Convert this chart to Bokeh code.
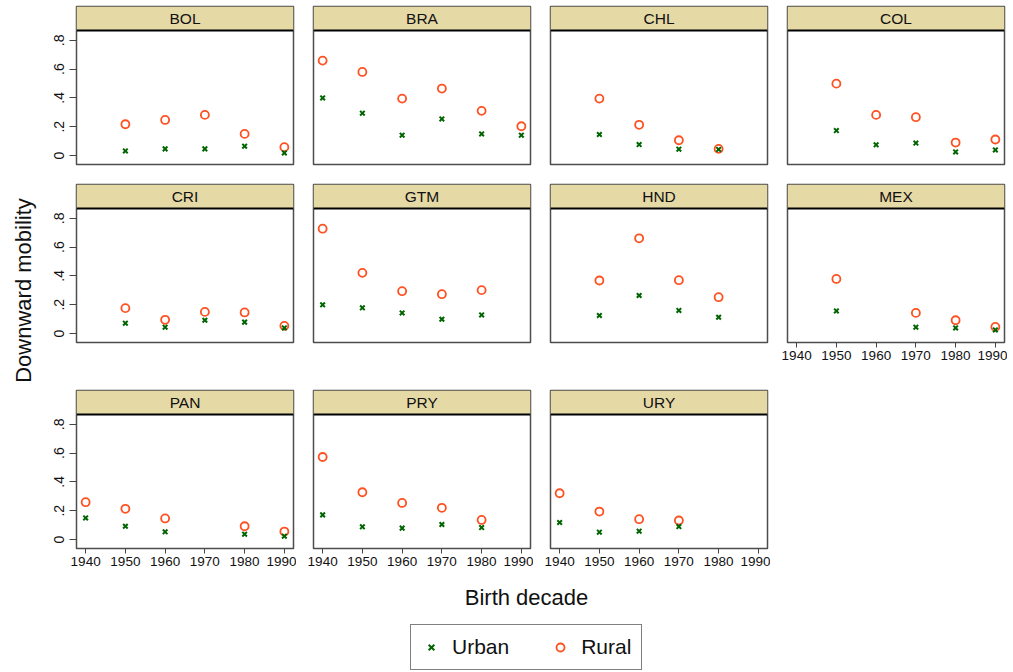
import math
from bokeh.plotting import figure
from bokeh.layouts import row, column
from bokeh.models import (Range1d, FixedTicker, CustomJSTickFormatter, ColumnDataSource,
                          Span, Legend, LegendItem)
from bokeh.core.properties import value
from bokeh.embed import file_html
from bokeh.resources import INLINE

# ---------------- data ----------------
COUNTRIES = ["BOL", "BRA", "CHL", "COL", "CRI", "GTM", "HND", "MEX", "PAN", "PRY", "URY"]
DECADES = [1940, 1950, 1960, 1970, 1980, 1990]
Y_TICKS = [0, 0.2, 0.4, 0.6, 0.8]
X_TICKS = [1940, 1950, 1960, 1970, 1980, 1990]

BOL_URBAN = [None, 0.032, 0.046, 0.046, 0.065, 0.018]
BOL_RURAL = [None, 0.217, 0.247, 0.282, 0.150, 0.058]
BRA_URBAN = [0.400, 0.294, 0.141, 0.254, 0.150, 0.141]
BRA_RURAL = [0.659, 0.580, 0.395, 0.465, 0.310, 0.203]
CHL_URBAN = [None, 0.146, 0.076, 0.044, 0.042, None]
CHL_RURAL = [None, 0.395, 0.213, 0.106, 0.046, None]
COL_URBAN = [None, 0.173, 0.074, 0.086, 0.025, 0.039]
COL_RURAL = [None, 0.499, 0.282, 0.266, 0.090, 0.111]
CRI_URBAN = [None, 0.072, 0.044, 0.092, 0.079, 0.039]
CRI_RURAL = [None, 0.176, 0.095, 0.150, 0.146, 0.053]
GTM_URBAN = [0.199, 0.178, 0.143, 0.099, 0.129, None]
GTM_RURAL = [0.728, 0.421, 0.294, 0.273, 0.301, None]
HND_URBAN = [None, 0.125, 0.264, 0.160, 0.113, None]
HND_RURAL = [None, 0.368, 0.661, 0.370, 0.252, None]
MEX_URBAN = [None, 0.157, None, 0.044, 0.039, 0.025]
MEX_RURAL = [None, 0.379, None, 0.143, 0.092, 0.046]
PAN_URBAN = [0.150, 0.092, 0.053, None, 0.037, 0.023]
PAN_RURAL = [0.259, 0.213, 0.146, None, 0.092, 0.055]
PRY_URBAN = [0.171, 0.088, 0.079, 0.104, 0.083, None]
PRY_RURAL = [0.573, 0.328, 0.254, 0.220, 0.136, None]
URY_URBAN = [0.118, 0.051, 0.058, 0.090, None, None]
URY_RURAL = [0.321, 0.194, 0.141, 0.132, None, None]

URBAN = {"BOL": BOL_URBAN, "BRA": BRA_URBAN, "CHL": CHL_URBAN, "COL": COL_URBAN,
         "CRI": CRI_URBAN, "GTM": GTM_URBAN, "HND": HND_URBAN, "MEX": MEX_URBAN,
         "PAN": PAN_URBAN, "PRY": PRY_URBAN, "URY": URY_URBAN}
RURAL = {"BOL": BOL_RURAL, "BRA": BRA_RURAL, "CHL": CHL_RURAL, "COL": COL_RURAL,
         "CRI": CRI_RURAL, "GTM": GTM_RURAL, "HND": HND_RURAL, "MEX": MEX_RURAL,
         "PAN": PAN_RURAL, "PRY": PRY_RURAL, "URY": URY_RURAL}

# ---------------- style ----------------
FONT = "Liberation Sans"
GREEN = "#006400"
ORANGE = "#FF5020"
STRIP = "#E5D9A6"
OUTLINE = "#4d4d4d"
TXT = "#111111"

X_LO, X_HI = 1937.7, 1992.3
Y_LO, Y_HI = -0.0625, 0.868
PLOT_PX, STRIP_PX, FRAME_W = 134, 24, 217
Y_TOP = Y_HI + STRIP_PX * (Y_HI - Y_LO) / PLOT_PX
ROW_TOP = [6, 1, 1]
ROW_BOTTOM = [19, 47, 29]
YLAB_W = 40


def src_for(vals):
    xs = [d for d, v in zip(DECADES, vals) if v is not None]
    ys = [v for v in vals if v is not None]
    return ColumnDataSource(dict(x=xs, y=ys))


def make_panel(name, col, r, show_x):
    left = 36 if col == 0 else 17
    right = 3
    top = ROW_TOP[r]
    bottom = ROW_BOTTOM[r]
    p = figure(width=left + FRAME_W + right, height=top + PLOT_PX + STRIP_PX + bottom,
               x_range=Range1d(X_LO, X_HI), y_range=Range1d(Y_LO, Y_TOP),
               x_axis_location="below" if show_x else None,
               y_axis_location="left" if col == 0 else None,
               output_backend="svg", toolbar_location=None, title=None,
               min_border_left=left, min_border_right=right,
               min_border_top=top, min_border_bottom=bottom)
    p.grid.visible = False
    p.outline_line_color = OUTLINE
    p.outline_line_width = 1.5
    p.background_fill_color = "white"
    p.border_fill_color = "white"

    # strip header
    p.quad(left=[X_LO], right=[X_HI], bottom=[Y_HI], top=[Y_TOP],
           fill_color=STRIP, line_color=None)
    p.add_layout(Span(location=Y_HI, dimension="width", line_color="black", line_width=2))
    p.text(x=[(X_LO + X_HI) / 2], y=[(Y_HI + Y_TOP) / 2], text=[name],
           text_align="center", text_baseline="middle",
           text_font=value(FONT), text_font_size="15.5px", text_color=TXT)

    # data
    p.scatter("x", "y", source=src_for(RURAL[name]), marker="circle", size=8,
              fill_color=None, line_color=ORANGE, line_width=1.8)
    p.scatter("x", "y", source=src_for(URBAN[name]), marker="x", size=6.5,
              line_color=GREEN, line_width=2)

    if col == 0:
        ax = p.yaxis[0]
        ax.ticker = FixedTicker(ticks=Y_TICKS)
        ax.formatter = CustomJSTickFormatter(
            code="return tick == 0 ? '0' : tick.toFixed(1).replace('0.', '.');")
        ax.major_label_orientation = "vertical"
        ax.axis_line_color = None
        ax.major_tick_out = 7
        ax.major_tick_in = 0
        ax.major_tick_line_color = "#444444"
        ax.minor_tick_line_color = None
        ax.major_label_standoff = 5
        ax.major_label_text_font = FONT
        ax.major_label_text_font_size = "14px"
        ax.major_label_text_color = TXT
    if show_x:
        ax = p.xaxis[0]
        ax.ticker = FixedTicker(ticks=X_TICKS)
        ax.axis_line_color = None
        ax.major_tick_out = 5
        ax.major_tick_in = 0
        ax.major_tick_line_color = "#444444"
        ax.minor_tick_line_color = None
        ax.major_label_standoff = 3
        ax.major_label_text_font = FONT
        ax.major_label_text_font_size = "13.5px"
        ax.major_label_text_color = TXT
    return p


rows = []
for r in range(3):
    figs = []
    for c in range(4):
        i = r * 4 + c
        if i >= len(COUNTRIES):
            break
        name = COUNTRIES[i]
        show_x = (r == 2) or (name == "MEX")
        figs.append(make_panel(name, c, r, show_x))
    rows.append(row(*figs))

grid_h = sum(t + PLOT_PX + STRIP_PX + b for t, b in zip(ROW_TOP, ROW_BOTTOM))
total_w = YLAB_W + (36 + FRAME_W + 3) + 3 * (17 + FRAME_W + 3)

# y-axis title
yl = figure(width=YLAB_W, height=grid_h, x_range=Range1d(0, YLAB_W), y_range=Range1d(0, grid_h),
            output_backend="svg", toolbar_location=None, title=None,
            x_axis_location=None, y_axis_location=None,
            min_border_left=0, min_border_right=0, min_border_top=0, min_border_bottom=0)
yl.grid.visible = False
yl.outline_line_color = None
yl.text(x=[23], y=[grid_h - 290], text=["Downward mobility"], angle=math.pi / 2,
        text_align="center", text_baseline="middle",
        text_font=value(FONT), text_font_size="22px", text_color=TXT)

# bottom: x title + legend
BH = 94
bf = figure(width=total_w, height=BH, x_range=Range1d(0, total_w), y_range=Range1d(0, BH),
            output_backend="svg", toolbar_location=None, title=None,
            x_axis_location=None, y_axis_location=None,
            min_border_left=0, min_border_right=0, min_border_top=0, min_border_bottom=0)
bf.grid.visible = False
bf.outline_line_color = None
bf.text(x=[526], y=[BH - 20], text=["Birth decade"],
        text_align="center", text_baseline="middle",
        text_font=value(FONT), text_font_size="22px", text_color=TXT)
# legend proxies: real series whose decades lie outside this strip's range, so nothing shows
r_u = bf.scatter("x", "y", source=src_for(URBAN["BRA"]), marker="x", line_color=GREEN,
                 line_width=2, size=7)
r_r = bf.scatter("x", "y", source=src_for(RURAL["BRA"]), marker="circle", fill_color=None,
                 line_color=ORANGE, line_width=1.8, size=8)
legend = Legend(items=[LegendItem(label="Urban", renderers=[r_u], index=0),
                       LegendItem(label="Rural", renderers=[r_r], index=0)],
                location=(410, 1), orientation="horizontal",
                padding=10, spacing=41, label_standoff=11, glyph_width=20, glyph_height=20,
                margin=0, border_line_color="black", border_line_width=1,
                background_fill_color="white", background_fill_alpha=1,
                label_text_font=FONT, label_text_font_size="21px", label_text_color=TXT)
bf.add_layout(legend)

layout = column(row(yl, column(*rows)), bf)
open("out.html", "w").write(file_html(layout, INLINE))
